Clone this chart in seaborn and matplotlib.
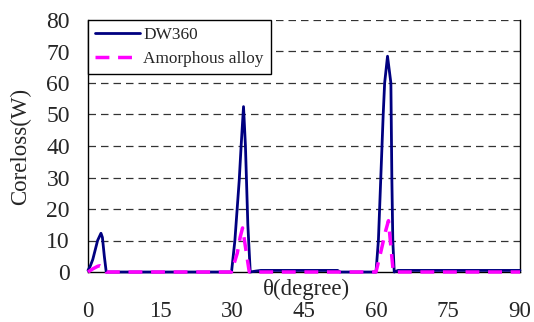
import numpy as np
import pandas as pd
import seaborn as sns
import matplotlib
matplotlib.use("Agg")
import matplotlib.pyplot as plt

# Values
dw_theta = [0, 0.5, 1.0, 1.5, 2.0, 2.7, 3.0, 3.4, 3.8,
            29.9, 30.6, 31.5, 31.9, 32.4, 32.8, 33.3, 33.8, 35.0, 36.0, 52.0, 52.5,
            60.0, 60.5, 61.0, 61.5, 61.8, 62.4, 63.1, 63.3, 63.5, 63.8, 64.6, 90]
dw_loss = [0.5, 2, 4, 7, 10, 12.3, 11, 5, 0,
           0, 10, 29, 40, 52.5, 40, 15, 0, 0.3, 0.5, 0.5, 0,
           0, 10, 30, 50, 60, 68.5, 60, 30, 10, 0, 0.5, 0.5]

am_theta = [0, 1.0, 2.0, 2.5, 3.2, 3.8,
            29.9, 31.1, 31.7, 32.2, 32.8, 33.6,
            60.0, 61.1, 62.0, 62.6, 63.1, 63.6, 90]
am_loss = [0, 1, 1.8, 2, 1.5, 0,
           0, 6, 11, 14, 8, 0,
           0, 7, 13, 16.3, 8, 0, 0]

x_ticks = [0, 15, 30, 45, 60, 75, 90]
y_ticks = [0, 10, 20, 30, 40, 50, 60, 70, 80]

sns.set_style("white")
plt.rcParams['font.family'] = ['Liberation Serif', 'DejaVu Serif']

dw_df = pd.DataFrame({"theta": dw_theta, "loss": dw_loss})
am_df = pd.DataFrame({"theta": am_theta, "loss": am_loss})

fig = plt.figure(figsize=(5.34, 3.22), dpi=100)
ax = fig.add_axes([88 / 534, 1 - 272 / 322, 432 / 534, 252 / 322])

# dashed horizontal grid, top one doubles as the upper frame
for y in y_ticks[1:]:
    ax.axhline(y, color="#333333", lw=0.9, ls=(0, (6, 4)), zorder=1)

sns.lineplot(data=dw_df, x="theta", y="loss", color="#000080", lw=2,
             ax=ax, label="DW360", clip_on=False, zorder=3)
sns.lineplot(data=am_df, x="theta", y="loss", color="#FF00FF", lw=2.5,
             ls=(0, (4, 2.5)), ax=ax, label="Amorphous alloy", clip_on=False, zorder=4)

ax.set_xlim(0, 90)
ax.set_ylim(0, 80)
ax.set_xticks(x_ticks)
ax.set_yticks(y_ticks)
ax.tick_params(axis="x", direction="in", length=5, pad=21, labelsize=16.5)
ax.tick_params(axis="y", length=0, pad=13, labelsize=17)

ax.spines["top"].set_visible(False)
for s in ["left", "right", "bottom"]:
    ax.spines[s].set_color("black")
    ax.spines[s].set_linewidth(1)

ax.set_xlabel("θ(degree)", fontsize=16.5)
ax.xaxis.set_label_coords(0.505, -0.028)
ax.xaxis.label.set_va("top")
ax.set_ylabel("Coreloss(W)", fontsize=16.5)
ax.yaxis.set_label_coords(-0.157, 0.5)
ax.yaxis.label.set_va("center")

leg = ax.legend(loc="upper left", borderaxespad=0, fancybox=False,
                framealpha=1, edgecolor="black", fontsize=12.4,
                handlelength=2.6, handletextpad=0.22, borderpad=0.4,
                labelspacing=0.45)
leg.get_frame().set_linewidth(1)

fig.savefig("out.png", dpi=100)
